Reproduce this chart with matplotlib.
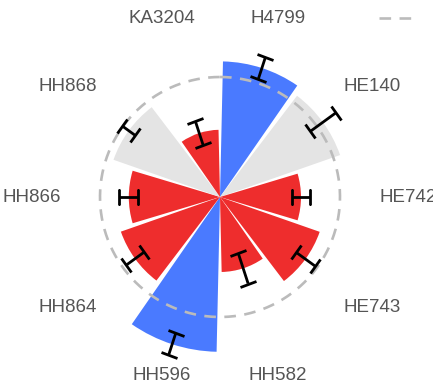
import numpy as np
import matplotlib
matplotlib.use("Agg")
import matplotlib.pyplot as plt
from matplotlib.lines import Line2D

plt.rcParams['font.family'] = ['Liberation Sans', 'DejaVu Sans']

# data, clockwise from north; 1.0 = reference (dashed circle)
labels = ["H4799", "HE140", "HE742", "HE743", "HH582",
          "HH596", "HH864", "HH866", "HH868", "KA3204"]
values = [1.13, 1.06, 0.675, 0.88, 0.625, 1.29, 0.875, 0.76, 0.94, 0.56]
errors = [0.096, 0.13, 0.073, 0.097, 0.133, 0.096, 0.089, 0.079, 0.067, 0.106]
colors = ["#4a7aff", "#e4e4e4", "#ee2d2d", "#ee2d2d", "#ee2d2d",
          "#4a7aff", "#ee2d2d", "#ee2d2d", "#e4e4e4", "#ee2d2d"]
reference = 1.0

W, H = 433, 386
fig = plt.figure(figsize=(W / 100, H / 100), dpi=100)

cx, cy = 220, 197      # centre in pixels (from top)
px_per_unit = 120
rmax = 1.6
R = rmax * px_per_unit
ax = fig.add_axes([(cx - R) / W, (H - cy - R) / H, 2 * R / W, 2 * R / H],
                  projection='polar')
ax.set_theta_zero_location('N')
ax.set_theta_direction(-1)
ax.set_ylim(0, rmax)
ax.grid(False)
ax.set_xticks([])
ax.set_yticks([])
ax.spines['polar'].set_visible(False)
ax.patch.set_alpha(0)

n = len(labels)
step = 2 * np.pi / n
theta = np.arange(n) * step + step / 2

ax.bar(theta, values, width=step * 0.93, color=colors, linewidth=0, zorder=2)

t = np.linspace(0, 2 * np.pi, 400)
ax.plot(t, np.full_like(t, reference), color="#bbbbbb", lw=1.9,
        dashes=(4.4, 3.2), zorder=3)

ax.errorbar(theta, values, yerr=errors, fmt='none', ecolor='black',
            elinewidth=2.0, capsize=6, capthick=2.0, zorder=4)

for th, lab in zip(theta, labels):
    ax.text(th, 188 / px_per_unit, lab, ha='center', va='center',
            fontsize=13.5, color='#555555', clip_on=False)

# legend sample (label is outside the visible area)
fig.add_artist(Line2D([379 / W, 413 / W], [1 - 18.3 / H, 1 - 18.3 / H],
                      color="#bbbbbb", lw=1.9, dashes=(4.4, 3.2)))

fig.savefig("out.png", dpi=100)
